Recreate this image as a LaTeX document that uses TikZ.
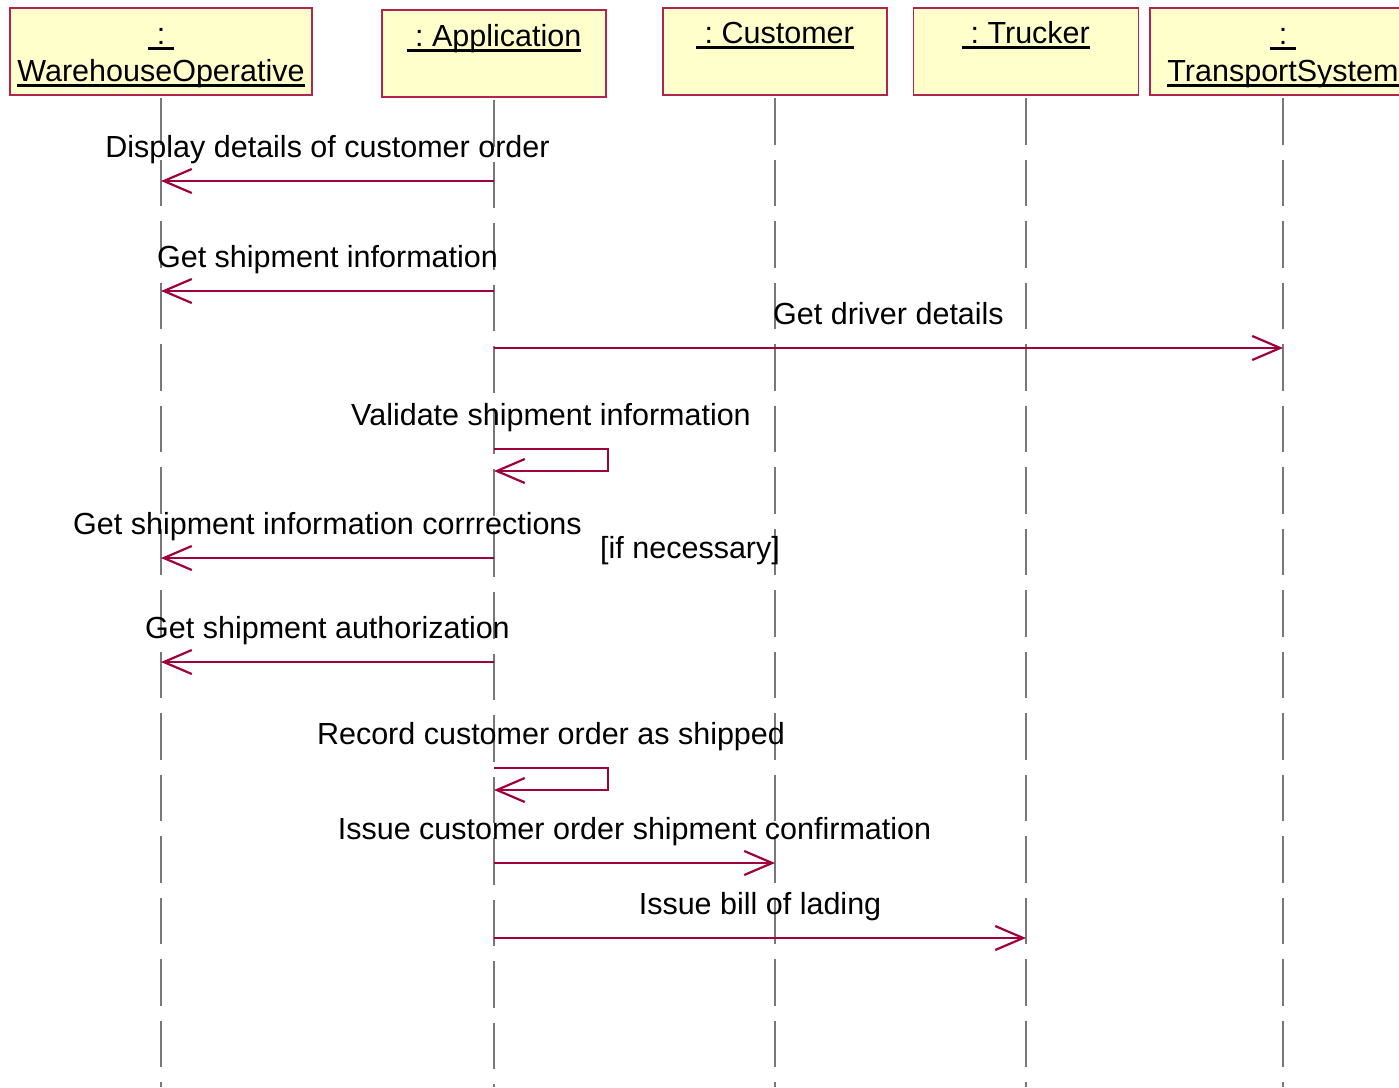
\documentclass[tikz,border=0pt]{standalone}
\usepackage{fontspec}
\setmainfont{Liberation Sans}
\usetikzlibrary{arrows.meta}
\definecolor{boxfill}{RGB}{255,255,204}
\definecolor{boxedge}{RGB}{176,36,80}
\definecolor{msgred}{RGB}{160,0,60}
\definecolor{lifegray}{RGB}{120,120,120}
% underlined object name with a fixed rule below the baseline
\newcommand\ulbox[1]{\setbox0=\hbox{#1}\rlap{\rule[-5.6pt]{\wd0}{2.2pt}}\box0}
\begin{document}
\begin{tikzpicture}[x=1pt,y=-1pt,
  every node/.style={font=\fontsize{30.5}{36}\selectfont, inner sep=0pt},
  head/.style={draw=boxedge, fill=boxfill, line width=1.3pt, minimum height=87pt},
  txt/.style={anchor=base},
  lab/.style={anchor=base, yshift=24pt},
  lifeline/.style={draw=lifegray, line width=1.4pt, dash pattern=on 46.5pt off 15pt},
  msg/.style={draw=msgred, line width=1.2pt,
    -{Straight Barb[length=28pt,width=24pt,line width=2.2pt]}},
]
\useasboundingbox (0,0) rectangle (1399,1087);
\coordinate (bottom) at (0,1087);

% object heads
\node[head, minimum width=302pt] (wo)   at (161,51.5)  {};
\node[head, minimum width=224pt] (app)  at (494,53.5)  {};
\node[head, minimum width=224pt] (cus)  at (775,51.5)  {};
\node[head, minimum width=225pt] (tru)  at (1026,51.5) {};
\node[head, minimum width=266pt] (tsys) at (1283,51.5) {};

\node[txt] (wo-a)   at (161,44)  {\ulbox{\ :\ }};
\node[txt] (wo-b)   at (161,81)  {\ulbox{WarehouseOperative}};
\node[txt] (app-a)  at (494,46)  {\ulbox{\ :\ Application}};
\node[txt] (cus-a)  at (775,43)  {\ulbox{\ :\ Customer}};
\node[txt] (tru-a)  at (1026,43) {\ulbox{\ :\ Trucker}};
\node[txt] (tsys-a) at (1283,44) {\ulbox{\ :\ }};
\node[txt] (tsys-b) at (1283,81) {\ulbox{TransportSystem}};

% lifelines
\foreach \o in {wo,app,cus,tru,tsys}
  \draw[lifeline] ([yshift=-2.5pt]\o.south) -- (\o.south |- bottom);

% message rows
\coordinate (r1) at (0,181);
\coordinate (r2) at (0,291);
\coordinate (r3) at (0,348);
\coordinate (r4) at (0,449);
\coordinate (r5) at (0,558);
\coordinate (r6) at (0,662);
\coordinate (r7) at (0,768);
\coordinate (r8) at (0,863);
\coordinate (r9) at (0,938);

\draw[msg] (app |- r1) -- node[lab] (m1) {Display details of customer order} (wo |- r1);
\draw[msg] (app |- r2) -- node[lab] (m2) {Get shipment information} (wo |- r2);
\draw[msg] (app |- r3) -- node[lab] (m3) {Get driver details} (tsys |- r3);
\draw[msg] (app |- r4) -- node[lab] (m4) {Validate shipment information} ++(114,0)
  -- ++(0,22) -- ++(-114,0);
\draw[msg] (app |- r5) -- node[lab] (m5) {Get shipment information corrrections} (wo |- r5);
\node[anchor=base west] (guard) at (600,558) {[if necessary]};
\draw[msg] (app |- r6) -- node[lab] (m6) {Get shipment authorization} (wo |- r6);
\draw[msg] (app |- r7) -- node[lab] (m7) {Record customer order as shipped} ++(114,0)
  -- ++(0,22) -- ++(-114,0);
\draw[msg] (app |- r8) -- node[lab] (m8) {Issue customer order shipment confirmation} (cus |- r8);
\draw[msg] (app |- r9) -- node[lab] (m9) {Issue bill of lading} (tru |- r9);
\end{tikzpicture}
\end{document}
